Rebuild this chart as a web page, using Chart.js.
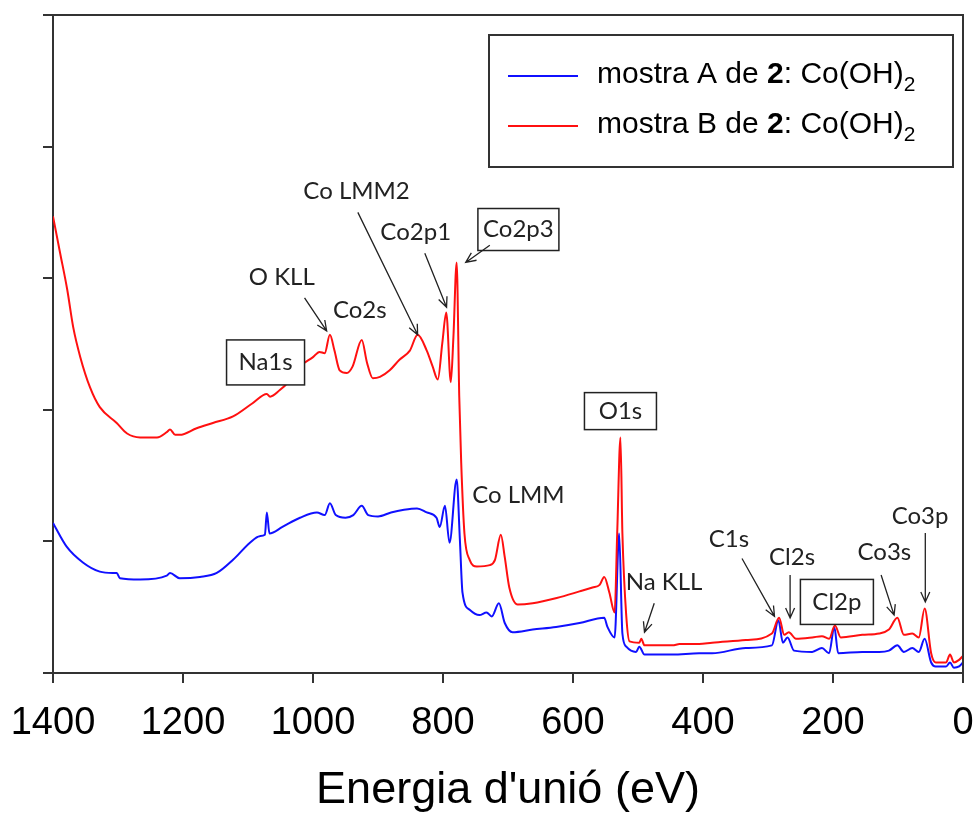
<!DOCTYPE html>
<html>
<head>
<meta charset="utf-8">
<script src="https://cdn.jsdelivr.net/npm/chart.js@4.4.0/dist/chart.umd.min.js"></script>
<style>
  html, body { margin: 0; padding: 0; background: #fff; }
  #wrap { width: 976px; height: 821px; position: relative; }
</style>
</head>
<body>
<div id="wrap"><canvas id="xps" width="976" height="821"></canvas></div>
<script>
// XPS survey spectra of compound 2, Co(OH)2 — two samples (binding energy in eV, intensity in arbitrary units)
const energyA = [1400,1379,1354,1328,1308,1302,1297,1266,1225,1220,1205,1174,1148,1123,1097,1082,1074,1071,1067,1047,1020,994,982,974,965,950,938,925,915,900,880,860,840,825,810,805,797,790,779,774,770,759,744,733,725,714,705,693,662,626,590,552,547,536,529,524,518,503,498,490,447,406,386,334,294,284,277,270,260,232,217,206,198,192,155,129,114,101,91,78,68,59,49,42,26,20,14,6,0];
const countsA = [1.14,0.96,0.84,0.77,0.76,0.76,0.72,0.71,0.74,0.76,0.72,0.73,0.76,0.86,0.99,1.04,1.05,1.22,1.06,1.11,1.18,1.22,1.20,1.29,1.20,1.18,1.20,1.27,1.20,1.19,1.22,1.24,1.25,1.22,1.18,1.11,1.27,0.99,1.47,1.01,0.61,0.48,0.44,0.46,0.43,0.53,0.38,0.31,0.33,0.35,0.38,0.42,0.35,0.27,1.06,0.30,0.20,0.16,0.20,0.14,0.14,0.15,0.15,0.19,0.21,0.40,0.23,0.27,0.17,0.16,0.19,0.15,0.35,0.15,0.16,0.16,0.17,0.21,0.16,0.19,0.16,0.26,0.08,0.05,0.05,0.08,0.04,0.05,0.08];

const energyB = [1400,1389,1378,1369,1358,1343,1328,1302,1286,1266,1240,1225,1220,1212,1205,1179,1154,1123,1093,1071,1066,1051,1040,1020,1000,990,982,974,967,959,948,939,925,917,908,897,882,867,851,839,825,816,808,801,795,788,784,779,775,772,767,759,748,728,720,711,705,698,685,662,625,590,570,559,552,544,536,532,527,524,518,513,498,495,490,447,436,406,386,334,294,283,275,268,257,232,217,206,197,188,155,129,114,101,91,78,68,59,49,42,26,20,14,6,0];
const countsB = [3.47,3.19,2.91,2.63,2.40,2.17,2.02,1.90,1.82,1.79,1.79,1.83,1.85,1.81,1.81,1.86,1.90,1.95,2.05,2.12,2.10,2.15,2.20,2.33,2.40,2.44,2.43,2.57,2.45,2.30,2.28,2.33,2.53,2.36,2.24,2.25,2.30,2.38,2.45,2.57,2.45,2.33,2.23,2.51,2.74,2.21,2.55,3.12,2.10,1.60,1.06,0.86,0.81,0.82,0.86,1.05,0.88,0.65,0.52,0.53,0.57,0.62,0.65,0.67,0.73,0.61,0.46,1.06,1.79,1.06,0.43,0.24,0.23,0.26,0.21,0.21,0.22,0.22,0.23,0.25,0.30,0.42,0.29,0.31,0.26,0.27,0.28,0.26,0.36,0.27,0.29,0.30,0.33,0.42,0.29,0.30,0.27,0.49,0.15,0.08,0.08,0.14,0.08,0.10,0.13];

const energyTicks = [1400,1200,1000,800,600,400,200,0];
const intensityTicks = [0,1,2,3,4,5];

// Peak assignments: label anchor (eV, intensity), optional arrow (from -> to)
const peakNames  = ['Na1s','O KLL','Co2s','Co LMM2','Co2p1','Co2p3','O1s','Co LMM','Na KLL','C1s','Cl2s','Cl2p','Co3s','Co3p'];
const peakLabelE = [1073,1048,928,933,842,684,527,684,460,360,263,194,121,66];
const peakLabelI = [2.36,3.01,2.76,3.66,3.35,3.37,1.99,1.35,0.69,1.02,0.88,0.54,0.92,1.19];
const peakBoxed  = [true,false,false,false,false,true,true,false,false,false,false,true,false,false];
const arrowFromE = [null,1013,null,931,828,728,null,null,475,340,266,null,126,58];
const arrowFromI = [null,2.85,null,3.50,3.19,3.25,null,null,0.53,0.87,0.745,null,0.745,1.064];
const arrowToE   = [null,979,null,839,794.5,765,null,null,490,290,266,null,106,58];
const arrowToI   = [null,2.60,null,2.57,2.78,3.12,null,null,0.31,0.43,0.418,null,0.44,0.54];

const seriesNames = ['mostra A de ', 'mostra B de '];
const compoundNo = '2';
const formula = ': Co(OH)';
const formulaSub = '2';
const seriesColors = ['#1010ff', '#ff1010'];

const axisColor = '#333';
const boxSizes = { 'Na1s': [78, 45], 'Co2p3': [81, 42], 'O1s': [72, 37], 'Cl2p': [73, 45] };
const sansFamily = '"Liberation Sans", Arial, sans-serif';

function toPoints(xs, ys) { return xs.map((x, i) => ({ x: x, y: ys[i] })); }

const framePlugin = {
  id: 'frame',
  afterDraw(chart) {
    const { ctx, chartArea: a } = chart;
    ctx.save();
    ctx.strokeStyle = axisColor;
    ctx.lineWidth = 2;
    ctx.beginPath();
    ctx.moveTo(a.left, a.top);
    ctx.lineTo(a.right, a.top);
    ctx.lineTo(a.right, a.bottom);
    ctx.stroke();
    ctx.restore();
  }
};

const peakPlugin = {
  id: 'peaks',
  afterDatasetsDraw(chart) {
    const { ctx, scales: { x, y } } = chart;
    ctx.save();
    ctx.font = '24px Lato, "Open Sans", sans-serif';
    ctx.fillStyle = '#222';
    ctx.strokeStyle = '#222';
    ctx.textAlign = 'center';
    ctx.textBaseline = 'middle';
    peakNames.forEach((name, i) => {
      const px = x.getPixelForValue(peakLabelE[i]);
      const py = y.getPixelForValue(peakLabelI[i]);
      if (peakBoxed[i]) {
        const [w, h] = boxSizes[name];
        ctx.fillStyle = '#fff';
        ctx.fillRect(px - w / 2, py - h / 2, w, h);
        ctx.lineWidth = 1.5;
        ctx.strokeRect(px - w / 2, py - h / 2, w, h);
        ctx.fillStyle = '#222';
      }
      ctx.fillText(name, px, py);
      if (arrowFromE[i] !== null) {
        const x0 = x.getPixelForValue(arrowFromE[i]);
        const y0 = y.getPixelForValue(arrowFromI[i]);
        const x1 = x.getPixelForValue(arrowToE[i]);
        const y1 = y.getPixelForValue(arrowToI[i]);
        const ang = Math.atan2(y1 - y0, x1 - x0);
        const head = 11, spread = 0.42;
        ctx.lineWidth = 1.3;
        ctx.beginPath();
        ctx.moveTo(x0, y0);
        ctx.lineTo(x1, y1);
        ctx.moveTo(x1 - head * Math.cos(ang - spread), y1 - head * Math.sin(ang - spread));
        ctx.lineTo(x1, y1);
        ctx.lineTo(x1 - head * Math.cos(ang + spread), y1 - head * Math.sin(ang + spread));
        ctx.stroke();
      }
    });
    ctx.restore();
  }
};

const legendPlugin = {
  id: 'richLegend',
  afterDraw(chart) {
    const { ctx, chartArea: a } = chart;
    const bx = a.right - 474, by = a.top + 20, bw = 464, bh = 132;
    ctx.save();
    ctx.fillStyle = '#fff';
    ctx.fillRect(bx, by, bw, bh);
    ctx.strokeStyle = axisColor;
    ctx.lineWidth = 2;
    ctx.strokeRect(bx, by, bw, bh);
    ctx.textBaseline = 'alphabetic';
    ctx.textAlign = 'left';
    seriesNames.forEach((name, i) => {
      const ly = by + 41 + i * 50;
      ctx.strokeStyle = seriesColors[i];
      ctx.lineWidth = 2;
      ctx.beginPath();
      ctx.moveTo(bx + 19, ly);
      ctx.lineTo(bx + 89, ly);
      ctx.stroke();
      let tx = bx + 108;
      const base = ly + 7;
      ctx.fillStyle = '#000';
      const parts = [
        [name, 'normal 30px ' + sansFamily, 0],
        [compoundNo, 'bold 30px ' + sansFamily, 0],
        [formula, 'normal 30px ' + sansFamily, 0],
        [formulaSub, 'normal 21px ' + sansFamily, 8]
      ];
      parts.forEach(([t, f, dy]) => {
        ctx.font = f;
        ctx.fillText(t, tx, base + dy);
        tx += ctx.measureText(t).width;
      });
    });
    ctx.restore();
  }
};

new Chart(document.getElementById('xps'), {
  type: 'line',
  data: {
    datasets: [
      { label: seriesNames[0] + compoundNo + formula + formulaSub, data: toPoints(energyA, countsA),
        borderColor: seriesColors[0], borderWidth: 2, pointRadius: 0, cubicInterpolationMode: 'monotone', order: 2 },
      { label: seriesNames[1] + compoundNo + formula + formulaSub, data: toPoints(energyB, countsB),
        borderColor: seriesColors[1], borderWidth: 2, pointRadius: 0, cubicInterpolationMode: 'monotone', order: 1 }
    ]
  },
  options: {
    responsive: false,
    devicePixelRatio: 1,
    animation: false,
    layout: { padding: { left: 43, top: 15, right: 13, bottom: 0 } },
    plugins: { legend: { display: false }, tooltip: { enabled: false } },
    scales: {
      x: {
        type: 'linear', reverse: true, min: 0, max: 1400,
        afterBuildTicks: s => { s.ticks = energyTicks.map(v => ({ value: v })); },
        afterFit: s => { s.height = 148; s.paddingLeft = 0; s.paddingRight = 0; },
        grid: { display: true, drawOnChartArea: false, drawTicks: true, tickLength: 10, lineWidth: 2, color: axisColor },
        border: { display: true, color: axisColor, width: 2 },
        ticks: { color: '#000', padding: 18, maxRotation: 0, callback: v => String(v),
                 font: { family: sansFamily, size: 38 } },
        title: { display: true, text: "Energia d'unió (eV)", color: '#000', padding: { top: 4, bottom: 3 },
                 font: { family: sansFamily, size: 45 } }
      },
      y: {
        type: 'linear', min: 0, max: 5,
        afterBuildTicks: s => { s.ticks = intensityTicks.map(v => ({ value: v })); },
        afterFit: s => { s.width = 10; },
        grid: { display: true, drawOnChartArea: false, drawTicks: true, tickLength: 10, lineWidth: 2, color: axisColor },
        border: { display: true, color: axisColor, width: 2 },
        ticks: { display: false }
      }
    }
  },
  plugins: [framePlugin, peakPlugin, legendPlugin]
});
</script>
</body>
</html>
